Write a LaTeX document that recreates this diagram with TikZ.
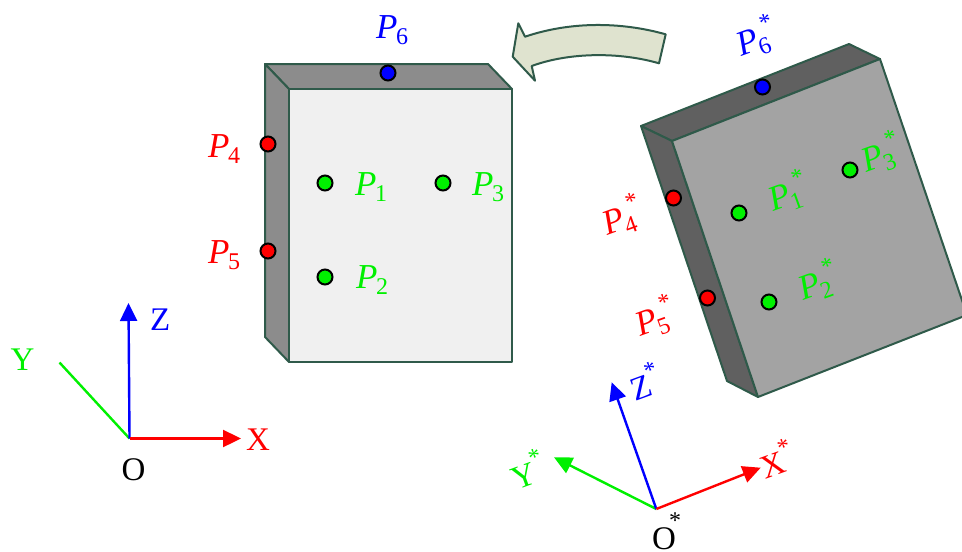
\documentclass[tikz,border=0pt]{standalone}
\usepackage{fontspec}
\setmainfont{Liberation Serif}
\usepackage{xcolor}
\usetikzlibrary{arrows.meta}
\definecolor{edgegreen}{HTML}{2F5A4A}
\definecolor{arrowfill}{HTML}{DFE3CF}
\definecolor{lightside}{HTML}{8C8C8C}
\definecolor{lightfront}{HTML}{F0F0F0}
\definecolor{darkside}{HTML}{606060}
\definecolor{darkfront}{HTML}{A3A3A3}
\definecolor{ptgreen}{HTML}{00F000}
\newcommand{\smallfont}{\fontsize{24}{24}\selectfont}
\newcommand{\Plab}[1]{\textit{P}\kern-1.5pt\raisebox{-6pt}{\smallfont #1}}
\newcommand{\Pstar}[1]{\textit{P}\kern-1.5pt\raisebox{-6pt}{\smallfont\rlap{#1}}\hspace{9pt}\raisebox{17pt}{\smallfont *}}
\newcommand{\Astar}[1]{#1\kern-1pt\raisebox{17pt}{\smallfont *}}
\tikzstyle{face} = [draw=edgegreen, line width=2pt, line join=round]
\tikzstyle{dot} = [draw=black, circle, line width=2pt, minimum size=15pt, inner sep=0pt]
\tikzstyle{lab} = [inner sep=0pt, anchor=base west, font=\fontsize{35}{35}\selectfont]
\tikzstyle{axislab} = [inner sep=0pt, anchor=base west, font=\fontsize{33}{33}\selectfont]
\tikzstyle{axis} = [line width=2.4pt, -{Triangle[length=18pt,width=17pt]}]
\begin{document}
\begin{tikzpicture}[x=1pt, y=-1pt]
    \useasboundingbox (0,0) rectangle (962,552);
    \clip (0,0) rectangle (962,552);
    % left block
    \draw [face, fill=lightside] (265,64) -- (488,64) -- (512,89) -- (289,89) -- cycle;
    \draw [face, fill=lightside] (265,64) -- (289,89) -- (289,362) -- (265,337) -- cycle;
    \draw [face, fill=lightfront] (289,89) rectangle (512,362);
    \node [dot, fill=blue] (pt6) at (388,73) {};
    \node [dot, fill=red] (pt4) at (268,144) {};
    \node [dot, fill=red] (pt5) at (268,251) {};
    \node [dot, fill=ptgreen] (pt1) at (325,183) {};
    \node [dot, fill=ptgreen] (pt3) at (443,183) {};
    \node [dot, fill=ptgreen] (pt2) at (325,277) {};
    \node [lab, blue] (pt6_lab) at (376,38) {\Plab{6}};
    \node [lab, red] (pt4_lab) at (208,157) {\Plab{4}};
    \node [lab, red] (pt5_lab) at (208,263) {\Plab{5}};
    \node [lab, ptgreen] (pt1_lab) at (355,195) {\Plab{1}};
    \node [lab, ptgreen] (pt3_lab) at (472,195) {\Plab{3}};
    \node [lab, ptgreen] (pt2_lab) at (356,288) {\Plab{2}};
    % right block
    \draw [face, fill=darkside] (641,126) -- (849,44) -- (880,59) -- (672,141) -- cycle;
    \draw [face, fill=darkside] (641,126) -- (672,141) -- (758,397) -- (727,381) -- cycle;
    \draw [face, fill=darkfront] (672,141) -- (880,59) -- (967,315) -- (758,397) -- cycle;
    \node [dot, fill=blue] (pt6s) at (762.5,87) {};
    \node [dot, fill=red] (pt4s) at (673.5,198) {};
    \node [dot, fill=red] (pt5s) at (707.5,298) {};
    \node [dot, fill=ptgreen] (pt1s) at (739,213) {};
    \node [dot, fill=ptgreen] (pt3s) at (850,170) {};
    \node [dot, fill=ptgreen] (pt2s) at (769,302) {};
    \node [lab, blue, rotate=20] (pt6s_lab) at (741,57) {\Pstar{6}};
    \node [lab, red, rotate=20] (pt4s_lab) at (607,236) {\Pstar{4}};
    \node [lab, red, rotate=20] (pt5s_lab) at (640,337) {\Pstar{5}};
    \node [lab, ptgreen, rotate=20] (pt1s_lab) at (773,212) {\Pstar{1}};
    \node [lab, ptgreen, rotate=20] (pt3s_lab) at (866,173) {\Pstar{3}};
    \node [lab, ptgreen, rotate=20] (pt2s_lab) at (803,301) {\Pstar{2}};
    % curved arrow
    \draw [face, fill=arrowfill] (665.7,34.3) .. controls (620,21.5) and (570,21.5) .. (525,36.7)
        -- (518.3,23.3) -- (512.7,56.7) -- (535,80.7) -- (531.7,66)
        .. controls (570,52) and (620,52) .. (659,63.3) -- cycle;
    % left axes
    \coordinate (orig) at (129.5,438.5);
    \coordinate (xtip) at (241,438.5);
    \coordinate (ztip) at (128.5,303);
    \coordinate (yend) at (59.5,362.5);
    \draw [ptgreen, line width=2.4pt] (orig) -- (yend);
    \draw [axis, blue] (orig) -- (ztip);
    \draw [axis, red] (orig) -- (xtip);
    \node [axislab, blue] (zlab) at (150,330) {Z};
    \node [axislab, red] (xlab) at (246,450) {X};
    \node [axislab, ptgreen] (ylab) at (10.5,370) {Y};
    \node [axislab] (olab) at (121.5,480) {O};
    % right axes
    \coordinate (origs) at (656.3,509);
    \coordinate (xtips) at (760.7,467.7);
    \coordinate (ztips) at (611.7,382.3);
    \coordinate (ytips) at (554,457.3);
    \draw [axis, ptgreen] (origs) -- (ytips);
    \draw [axis, blue] (origs) -- (ztips);
    \draw [axis, red] (origs) -- (xtips);
    \node [axislab, blue, rotate=20] (zlabs) at (635,401.7) {\Astar{Z}};
    \node [axislab, red, rotate=20] (xlabs) at (765,480) {\Astar{X}};
    \node [axislab, ptgreen, rotate=20] (ylabs) at (516,490.5) {\Astar{Y}};
    \node [axislab] (olabs) at (652,549) {O\kern-7pt\raisebox{21pt}{\smallfont *}};
\end{tikzpicture}
\end{document}
